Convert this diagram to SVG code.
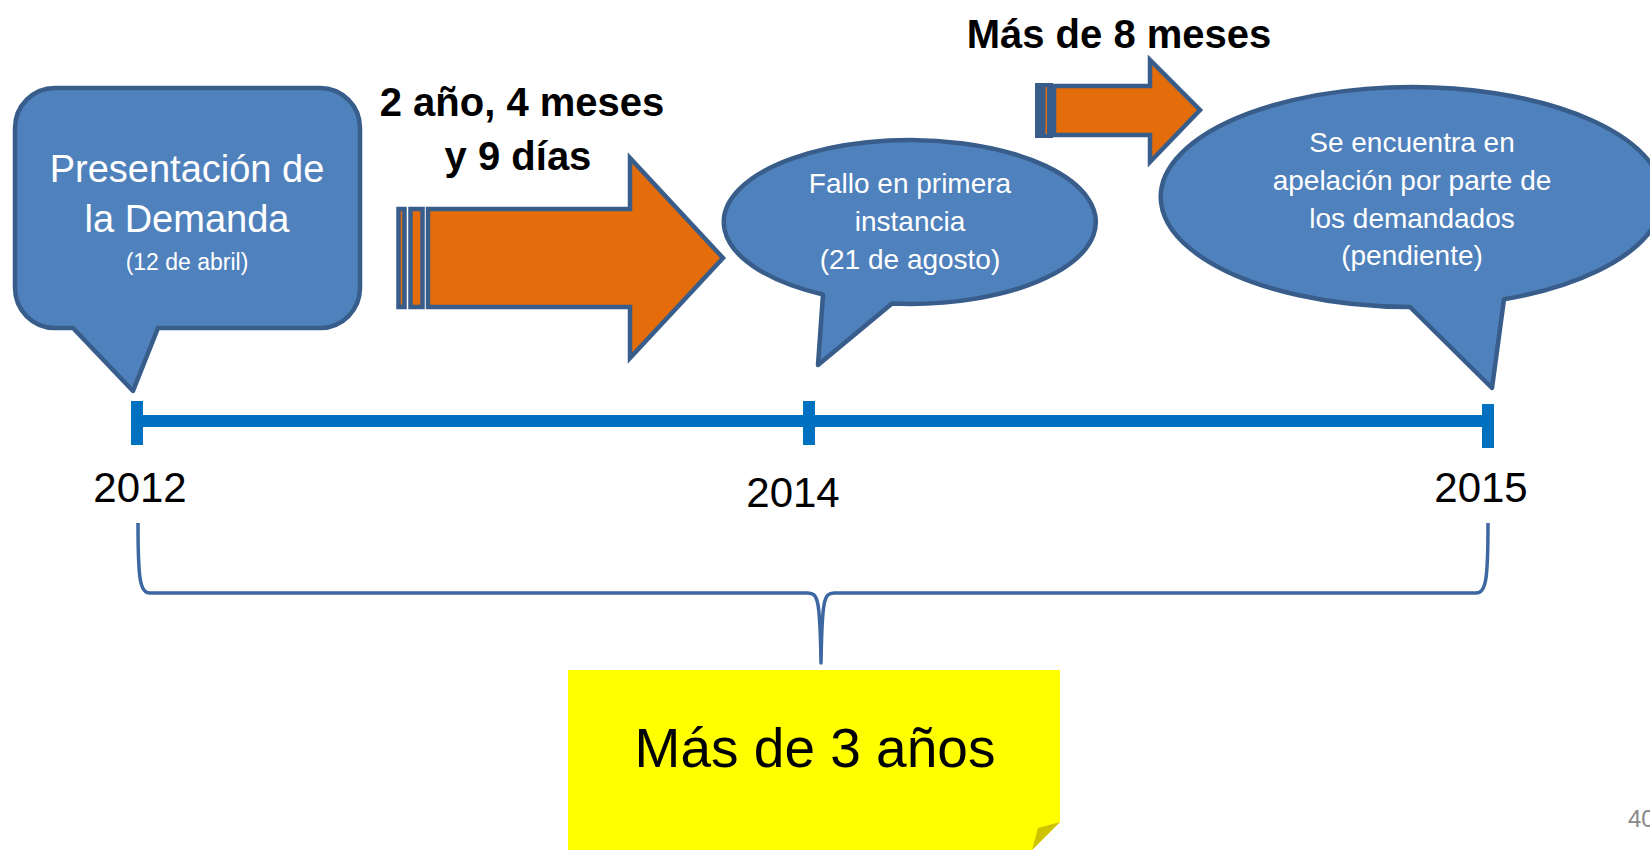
<svg xmlns="http://www.w3.org/2000/svg" width="1650" height="850" viewBox="0 0 1650 850">
<style>
.call{fill:#4F81BD;stroke:#385D8A;stroke-width:4.5;stroke-linejoin:round}
.arr{fill:#E46C0A;stroke:#385D8A;stroke-width:4.5;stroke-linejoin:miter}
.wt{font-family:"Liberation Sans",Arial,sans-serif;fill:#FFFFFF;text-anchor:middle}
.bk{font-family:"Liberation Sans",Arial,sans-serif;fill:#000000;text-anchor:middle}
.bold{font-weight:bold}
.tl{fill:#0070C0}
</style>
<rect x="0" y="0" width="1650" height="850" fill="#FFFFFF"/>

<g id="callout-presentacion">
<path class="call" d="M55,88 H320 A40,40 0 0 1 360,128 V288 A40,40 0 0 1 320,328 H158 L133,391 L73,328 H55 A40,40 0 0 1 15,288 V128 A40,40 0 0 1 55,88 Z"/>
<text class="wt" x="187" y="182" font-size="38">Presentación de</text>
<text class="wt" x="187" y="232" font-size="38">la Demanda</text>
<text class="wt" x="187" y="270" font-size="23">(12 de abril)</text>
</g>

<g id="arrow-1">
<rect class="arr" x="398.5" y="209" width="6" height="98"/>
<rect class="arr" x="410.5" y="209" width="12" height="98"/>
<path class="arr" d="M428,209 H630 V158 L723,258 L630,358 V307 H428 Z"/>
</g>
<g id="label-arrow-1">
<text class="bk bold" x="522" y="116" font-size="40">2 año, 4 meses</text>
<text class="bk bold" x="518" y="170" font-size="40">y 9 días</text>
</g>

<g id="callout-fallo">
<path class="call" d="M892,303.6 A186,82 0 1 0 823,294.5 L818,365 Z"/>
<text class="wt" x="910" y="193" font-size="28">Fallo en primera</text>
<text class="wt" x="910" y="231" font-size="28">instancia</text>
<text class="wt" x="910" y="269" font-size="28">(21 de agosto)</text>
</g>

<g id="arrow-2">
<rect x="1035" y="83" width="18" height="55" fill="#385D8A"/>
<rect x="1045.5" y="87" width="1.5" height="47" fill="#E46C0A"/>
<path class="arr" d="M1054,86 H1150 V60 L1200,110 L1150,162 V135 H1054 Z"/>
</g>
<g id="label-arrow-2">
<text class="bk bold" x="1119" y="48" font-size="40">Más de 8 meses</text>
</g>

<g id="callout-apelacion">
<path class="call" d="M1410,307 A251,110 0 1 1 1504,299.3 L1492,388 Z"/>
<text class="wt" x="1412" y="152" font-size="28">Se encuentra en</text>
<text class="wt" x="1412" y="190" font-size="28">apelación por parte de</text>
<text class="wt" x="1412" y="228" font-size="28">los demandados</text>
<text class="wt" x="1412" y="265" font-size="28">(pendiente)</text>
</g>

<g id="timeline">
<rect class="tl" x="137" y="415" width="1351" height="12"/>
<rect class="tl" x="131" y="401" width="12" height="44"/>
<rect class="tl" x="803" y="401" width="12" height="44"/>
<rect class="tl" x="1482" y="404" width="12" height="44"/>
</g>

<g id="years">
<text class="bk" x="140" y="502" font-size="42">2012</text>
<text class="bk" x="793" y="507" font-size="42">2014</text>
<text class="bk" x="1481" y="502" font-size="42">2015</text>
</g>

<g id="connectors">
<path d="M138,523 C138,580 140,593 150,593 L808,593 C818,593 820,600 821,663 C822,600 824,593 834,593 L1476,593 C1486,593 1488,580 1488,523" fill="none" stroke="#3C67A0" stroke-width="3.5" stroke-linejoin="round"/>
</g>

<g id="note-total">
<path d="M568,670 H1060 V822 L1032,850 H568 Z" fill="#FFFF00"/>
<path d="M1060,822 L1038,828 L1032,850 Z" fill="#CDC300"/>
<text class="bk" x="815" y="767" font-size="55">Más de 3 años</text>
</g>

<g id="page-number">
<text x="1628" y="827" font-family="'Liberation Sans',Arial,sans-serif" font-size="24" fill="#898989">40</text>
</g>
</svg>
